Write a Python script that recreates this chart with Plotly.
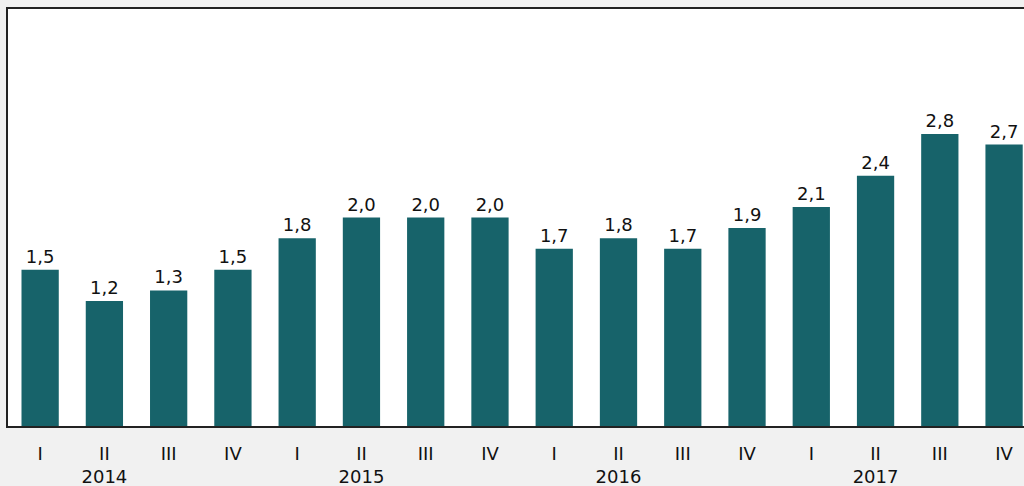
import plotly.graph_objects as go

quarters = ['I', 'II', 'III', 'IV'] * 4
years = ['2014', '2015', '2016', '2017']
values = [1.5, 1.2, 1.3, 1.5,
          1.8, 2.0, 2.0, 2.0,
          1.7, 1.8, 1.7, 1.9,
          2.1, 2.4, 2.8, 2.7]

# year label goes under the second quarter of each year
tick_text = []
for i, q in enumerate(quarters):
    if i % 4 == 1:
        tick_text.append(q + '<br>' + years[i // 4])
    else:
        tick_text.append(q)

x = list(range(len(values)))

fig = go.Figure()
fig.add_trace(go.Bar(
    x=x,
    y=values,
    marker=dict(color='#17636a', line=dict(width=0)),
    texttemplate='%{y:.1f}',
    textposition='outside',
    textfont=dict(family='DejaVu Sans', size=18, color='#111111'),
    cliponaxis=False,
    width=0.58,
))

fig.update_layout(
    width=1024,
    height=486,
    margin=dict(l=8, r=0, t=9, b=60),
    paper_bgcolor='#f1f1f1',
    plot_bgcolor='#ffffff',
    separators=',.',
    showlegend=False,
    font=dict(family='DejaVu Sans', size=18, color='#111111'),
    xaxis=dict(
        range=[-0.5, 15.31],
        tickvals=x,
        ticktext=tick_text,
        showline=True,
        linecolor='#222222',
        linewidth=2,
        mirror=True,
        ticks='',
        ticklabelstandoff=10,
        showgrid=False,
        zeroline=False,
        tickfont=dict(family='DejaVu Sans', size=18, color='#111111'),
    ),
    yaxis=dict(
        range=[0, 4],
        showline=True,
        linecolor='#222222',
        linewidth=2,
        showgrid=False,
        zeroline=False,
        showticklabels=False,
        ticks='',
    ),
)

# drop the browser's default body margin so the chart sits at the page corner
fig.write_html("out.html",
               config={'displayModeBar': False},
               post_script="document.body.style.margin='0';"
                           "document.body.style.overflow='hidden';")
